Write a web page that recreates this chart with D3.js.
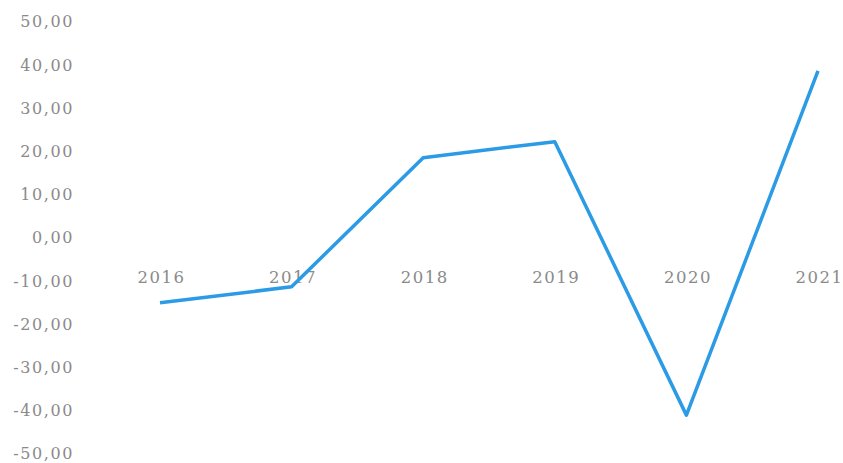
<!DOCTYPE html>
<html>
<head>
<meta charset="utf-8">
<script src="https://cdn.jsdelivr.net/npm/d3@7"></script>
<style>
  html, body { margin: 0; padding: 0; background: #fff; }
  svg { display: block; }
</style>
</head>
<body>
<svg id="chart" width="843" height="463"></svg>
<script>
const categories = ["2016", "2017", "2018", "2019", "2020", "2021"];
const values = [-15.0, -11.3, 18.6, 22.3, -41.0, 38.7];
const yTicks = [50, 40, 30, 20, 10, 0, -10, -20, -30, -40, -50];

const svg = d3.select("#chart");
const x = d3.scalePoint().domain(categories).range([160, 818]);
const y = d3.scaleLinear().domain([-50, 50]).range([454, 22]);

const fmt = v => d3.format(".2f")(v).replace(".", ",").replace("−", "-");
const font = "'DejaVu Serif', 'Liberation Serif', serif";

// Y axis labels
const yAxis = d3.axisLeft(y).tickValues(yTicks).tickFormat(fmt).tickSize(0).tickPadding(0);
const gy = svg.append("g").attr("transform", "translate(74,0)").call(yAxis);
gy.select(".domain").remove();
gy.selectAll("text")
  .attr("fill", "#8a8a8a")
  .attr("dy", "0.3em")
  .style("font-family", font)
  .style("font-size", "16px")
  .style("letter-spacing", "1.6px");

// X axis labels (placed below the zero line)
const xAxis = d3.axisBottom(x).tickSize(0).tickPadding(0);
const gx = svg.append("g").attr("transform", "translate(0," + (y(0) + 45) + ")").call(xAxis);
gx.select(".domain").remove();
gx.selectAll("text")
  .attr("fill", "#8a8a8a")
  .attr("dy", "0")
  .attr("dx", "1")
  .style("font-family", font)
  .style("font-size", "16.5px")
  .style("letter-spacing", "1.5px");

// Line
const line = d3.line()
  .x((d, i) => x(categories[i]))
  .y(d => y(d));
svg.append("path")
  .datum(values)
  .attr("d", line)
  .attr("fill", "none")
  .attr("stroke", "#2b9be6")
  .attr("stroke-width", 3.5)
  .attr("stroke-linejoin", "round");
</script>
</body>
</html>
